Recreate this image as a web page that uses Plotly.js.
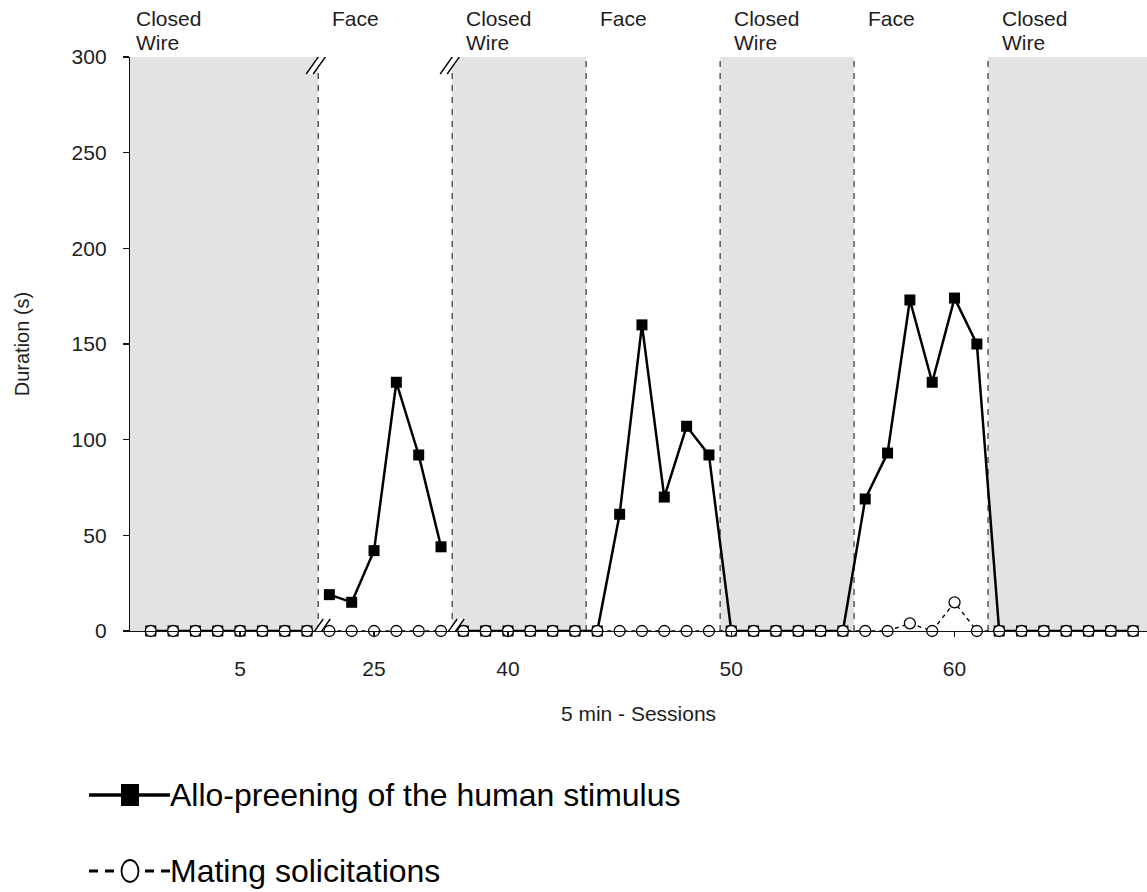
<!DOCTYPE html>
<html>
<head>
<meta charset="utf-8">
<script src="https://cdn.plot.ly/plotly-3.0.1.min.js"></script>
<style>
  html, body { margin: 0; padding: 0; background: #fff; }
  #chart { width: 1147px; height: 892px; }
</style>
</head>
<body>
<div id="chart"></div>
<script>
// 5-min sessions, in recording order (the axis is broken between 8|23 and 28|38)
const sessions = [1, 2, 3, 4, 5, 6, 7, 8,
                  23, 24, 25, 26, 27, 28,
                  38, 39, 40, 41, 42, 43,
                  44, 45, 46, 47, 48, 49,
                  50, 51, 52, 53, 54, 55,
                  56, 57, 58, 59, 60, 61,
                  62, 63, 64, 65, 66, 67, 68];

// Duration (s) of allo-preening directed at the human stimulus
const preening = [0, 0, 0, 0, 0, 0, 0, 0,
                  19, 15, 42, 130, 92, 44,
                  0, 0, 0, 0, 0, 0,
                  0, 61, 160, 70, 107, 92,
                  0, 0, 0, 0, 0, 0,
                  69, 93, 173, 130, 174, 150,
                  0, 0, 0, 0, 0, 0, 0];

// Duration (s) of mating solicitations
const mating = [0, 0, 0, 0, 0, 0, 0, 0,
                0, 0, 0, 0, 0, 0,
                0, 0, 0, 0, 0, 0,
                0, 0, 0, 0, 0, 0,
                0, 0, 0, 0, 0, 0,
                0, 0, 4, 0, 15, 0,
                0, 0, 0, 0, 0, 0, 0];

// Stimulus phases (first and last session of each)
const phaseLabels = ['Closed Wire', 'Face', 'Closed Wire', 'Face', 'Closed Wire', 'Face', 'Closed Wire'];
const phaseFirst  = [1, 23, 38, 44, 50, 56, 62];
const phaseLast   = [8, 28, 43, 49, 55, 61, 68];

// Labelled sessions on the x axis
const tickSessions = [5, 25, 40, 50, 60];
const yTicks = [0, 50, 100, 150, 200, 250, 300];

const seriesNames = ['Allo-preening of the human stimulus', 'Mating solicitations'];

// ---- geometry ----
const W = 1147, H = 892;
const M = { l: 130, r: 0, t: 57, b: 261 };
const PW = W - M.l - M.r, PH = H - M.t - M.b;
const xRange = [-0.93, 44.62];
const FONT = '"Liberation Sans", Arial, Helvetica, sans-serif';
const TXT = '#1e1e1e';
const SHADE = 'rgb(226,227,226)';

// each session sits at its order index on a linear axis
const posOf = s => sessions.indexOf(s);
const fx = px => (px - M.l) / PW;          // page px -> paper x
const fy = py => (M.t + PH - py) / PH;     // page px -> paper y

// split a series where the session numbering jumps (axis break)
function segmented(vals) {
  const xs = [], ys = [];
  sessions.forEach((s, i) => {
    if (i > 0 && s - sessions[i - 1] > 1) { xs.push(i - 0.5); ys.push(null); }
    xs.push(i); ys.push(vals[i]);
  });
  return { xs, ys };
}
const breakPos = [];
sessions.forEach((s, i) => { if (i > 0 && s - sessions[i - 1] > 1) breakPos.push(i - 0.5); });

const pre = segmented(preening);
const mat = segmented(mating);

const traces = [
  {
    x: pre.xs, y: pre.ys, name: seriesNames[0], type: 'scatter', mode: 'lines+markers',
    line: { color: '#000', width: 2.5 },
    marker: { symbol: 'square', size: 11, color: '#000' },
    cliponaxis: false, connectgaps: false, showlegend: false
  },
  {
    x: mat.xs, y: mat.ys, name: seriesNames[1], type: 'scatter', mode: 'lines+markers',
    line: { color: '#000', width: 1.4, dash: '4px,4px' },
    marker: { symbol: 'circle', size: 11, color: '#fff', line: { color: '#000', width: 1.3 } },
    cliponaxis: false, connectgaps: false, showlegend: false
  }
];

const shapes = [];
const annotations = [];

// shaded Closed Wire phases
phaseLabels.forEach((lab, k) => {
  if (lab !== 'Closed Wire') return;
  const x0 = k === 0 ? xRange[0] : posOf(phaseFirst[k]) - 0.5;
  const x1 = k === phaseLabels.length - 1 ? xRange[1] : posOf(phaseLast[k]) + 0.5;
  shapes.push({ type: 'rect', layer: 'below', xref: 'x', yref: 'y', x0, x1, y0: 0, y1: 300,
                fillcolor: SHADE, line: { width: 0 } });
});

// dashed phase boundaries
phaseFirst.slice(1).forEach(s => {
  const x = posOf(s) - 0.5;
  shapes.push({ type: 'line', layer: 'below', xref: 'x', yref: 'y', x0: x, x1: x, y0: 0, y1: 300,
                line: { color: '#333', width: 1.2, dash: '6px,6px' } });
});

// axis break marks ("//") at the bottom axis and the top of the plot
function breakMark(x, yAnchor, dy) {
  const common = { xref: 'x', yref: 'y', xsizemode: 'pixel', ysizemode: 'pixel',
                   xanchor: x, yanchor: yAnchor, layer: 'above' };
  shapes.push(Object.assign({ type: 'path',
    path: `M-12,${dy - 12} L-5,${dy - 12} L12,${dy + 12} L5,${dy + 12} Z`,
    fillcolor: '#fff', line: { width: 0 } }, common));
  shapes.push(Object.assign({ type: 'line', x0: -12, y0: dy - 12, x1: 5, y1: dy + 12,
    line: { color: '#000', width: 1.4 } }, common));
  shapes.push(Object.assign({ type: 'line', x0: -5, y0: dy - 12, x1: 12, y1: dy + 12,
    line: { color: '#000', width: 1.4 } }, common));
}
breakPos.forEach(x => { breakMark(x, 0, 0); breakMark(x, 300, -5); });

// phase names above the plot
phaseLabels.forEach((lab, k) => {
  const x = k === 0 ? xRange[0] : posOf(phaseFirst[k]) - 0.5;
  const shift = k === 0 ? 4 : 12;
  lab.split(' ').forEach((word, j) => {
    annotations.push({ xref: 'x', yref: 'paper', x, y: fy(18 + 24 * j), xanchor: 'left', yanchor: 'middle',
      xshift: shift, showarrow: false, text: word, font: { family: FONT, size: 21, color: TXT } });
  });
});

// legend, drawn below the axis
const legRows = [795, 871];
const legX0 = 89, legX1 = 170, legMid = 130, legText = 168;
// row 1: solid line with filled square
shapes.push({ type: 'line', xref: 'paper', yref: 'paper', x0: fx(legX0), x1: fx(legX1),
  y0: fy(legRows[0]), y1: fy(legRows[0]), line: { color: '#000', width: 3.5 } });
shapes.push({ type: 'rect', xref: 'paper', yref: 'paper', xsizemode: 'pixel', ysizemode: 'pixel',
  xanchor: fx(legMid), yanchor: fy(legRows[0]), x0: -9, x1: 9, y0: -11, y1: 11,
  fillcolor: '#000', line: { width: 0 } });
// row 2: dashed line with open circle
shapes.push({ type: 'line', xref: 'paper', yref: 'paper', x0: fx(legX0), x1: fx(legMid - 9),
  y0: fy(legRows[1]), y1: fy(legRows[1]), line: { color: '#000', width: 3, dash: '9px,7px' } });
shapes.push({ type: 'line', xref: 'paper', yref: 'paper', x0: fx(legX1), x1: fx(legMid + 9),
  y0: fy(legRows[1]), y1: fy(legRows[1]), line: { color: '#000', width: 3, dash: '9px,7px' } });
shapes.push({ type: 'circle', xref: 'paper', yref: 'paper', xsizemode: 'pixel', ysizemode: 'pixel',
  xanchor: fx(legMid), yanchor: fy(legRows[1]), x0: -8.5, x1: 8.5, y0: -11, y1: 11,
  fillcolor: '#fff', line: { color: '#000', width: 1.8 } });
seriesNames.forEach((nm, k) => {
  annotations.push({ xref: 'paper', yref: 'paper', x: fx(legText), y: fy(legRows[k]),
    xanchor: 'left', yanchor: 'middle', showarrow: false, text: nm,
    font: { family: FONT, size: 32, color: '#000' } });
});

const layout = {
  width: W, height: H,
  margin: M,
  paper_bgcolor: '#fff', plot_bgcolor: '#fff',
  showlegend: false,
  font: { family: FONT, color: TXT },
  xaxis: {
    range: xRange, showgrid: false, zeroline: false,
    showline: true, linecolor: '#111', linewidth: 1.2,
    ticks: 'outside', ticklen: 5, tickwidth: 1.2, tickcolor: '#111',
    tickvals: tickSessions.map(posOf), ticktext: tickSessions.map(String),
    tickfont: { family: FONT, size: 21, color: TXT },
    ticklabelstandoff: 14,
    automargin: true,
    title: { text: '5 min - Sessions', font: { family: FONT, size: 21, color: TXT }, standoff: 26 }
  },
  yaxis: {
    range: [0, 300], showgrid: false, zeroline: false,
    showline: true, linecolor: '#111', linewidth: 1.2,
    ticks: 'outside', ticklen: 6, tickwidth: 1.2, tickcolor: '#111',
    tickvals: yTicks, ticktext: yTicks.map(String),
    tickfont: { family: FONT, size: 21, color: TXT },
    ticklabelstandoff: 12,
    automargin: true,
    title: { text: 'Duration (s)', font: { family: FONT, size: 20, color: TXT }, standoff: 36 }
  },
  shapes, annotations
};

Plotly.newPlot('chart', traces, layout, { displayModeBar: false, staticPlot: true });
</script>
</body>
</html>
